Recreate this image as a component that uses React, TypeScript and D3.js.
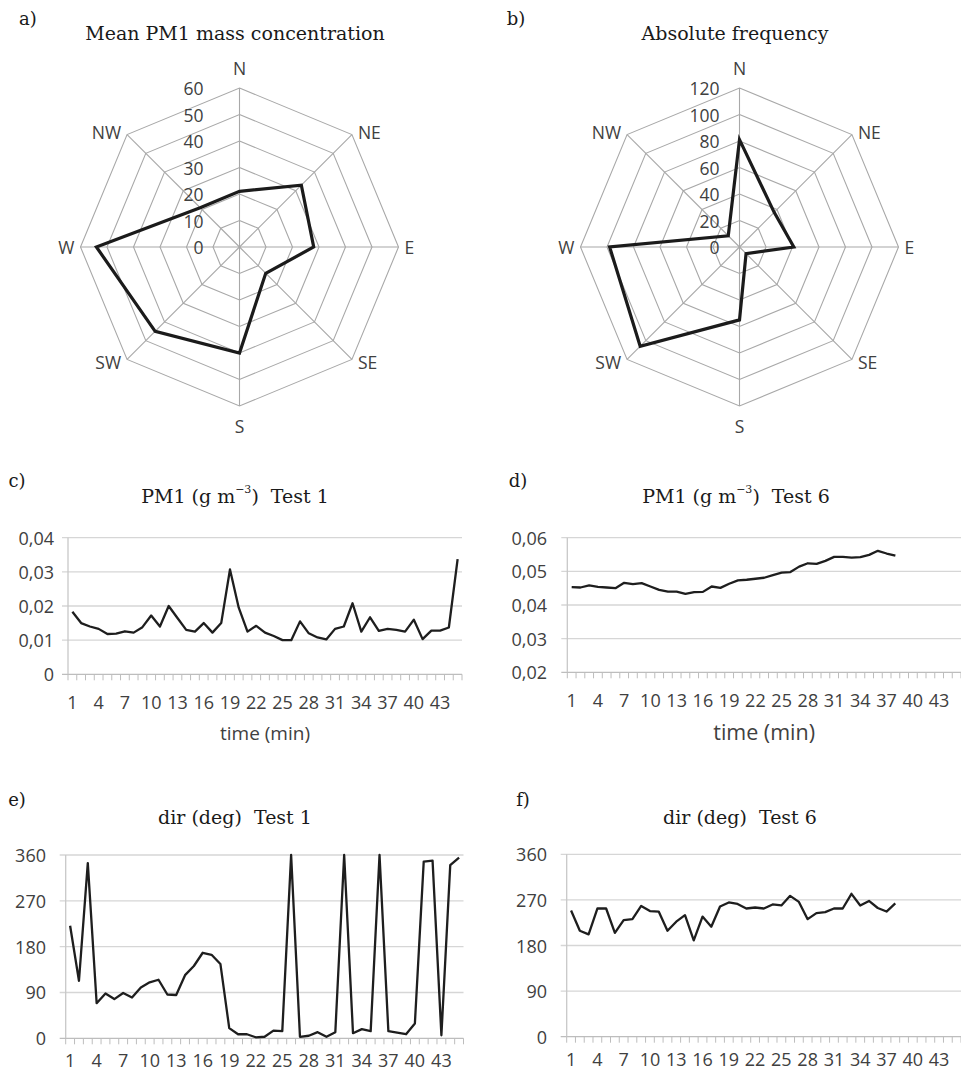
import React from 'react';
import * as d3 from 'd3';

// wind sectors, clockwise from north
const directions = ['N', 'NE', 'E', 'SE', 'S', 'SW', 'W', 'NW'];
const meanPm1 = [21, 33, 28, 14, 40, 45, 54, 21];
const frequency = [81, 37, 41, 7, 55, 106, 98, 12];
const pm1Ticks = [0, 10, 20, 30, 40, 50, 60];
const freqTicks = [0, 20, 40, 60, 80, 100, 120];

// minutes on the x axis of the time series
const minutes = [
  1, 2, 3, 4, 5, 6, 7, 8, 9, 10, 11, 12, 13, 14, 15, 16, 17, 18, 19, 20, 21, 22, 23,
  24, 25, 26, 27, 28, 29, 30, 31, 32, 33, 34, 35, 36, 37, 38, 39, 40, 41, 42, 43, 44, 45,
];
const minuteLabels = [1, 4, 7, 10, 13, 16, 19, 22, 25, 28, 31, 34, 37, 40, 43];

const pm1Test1 = [
  0.0183, 0.015, 0.014, 0.0133, 0.0118, 0.0119, 0.0126, 0.0122, 0.0138, 0.0172,
  0.014, 0.02, 0.0165, 0.013, 0.0125, 0.015, 0.0122, 0.015, 0.0307, 0.0195,
  0.0125, 0.0142, 0.0122, 0.0112, 0.01, 0.01, 0.0155, 0.012, 0.0108, 0.0102,
  0.0133, 0.014, 0.0208, 0.0125, 0.0167, 0.0127, 0.0133, 0.013, 0.0125, 0.016,
  0.0103, 0.0128, 0.0128, 0.0137, 0.0337,
];
const pm1Test6 = [
  0.0453, 0.0452, 0.0458, 0.0454, 0.0452, 0.045, 0.0466, 0.0462, 0.0465, 0.0455,
  0.0445, 0.044, 0.044, 0.0433, 0.0438, 0.0439, 0.0455, 0.0451, 0.0463, 0.0473,
  0.0475, 0.0478, 0.0481, 0.0489, 0.0496, 0.0498, 0.0514, 0.0524, 0.0522, 0.0531,
  0.0543, 0.0543, 0.0541, 0.0542, 0.0549, 0.0561, 0.0553, 0.0547,
];
const dirTest1 = [
  221, 113, 344, 69, 88, 77, 89, 80, 100, 110, 115, 86, 85, 124, 142, 168, 164, 146,
  20, 8, 8, 2, 3, 15, 14, 360, 3, 5, 12, 3, 12, 360, 10, 18, 14, 360, 14, 11, 8, 29,
  347, 349, 6, 340, 355,
];
const dirTest6 = [
  249, 209, 202, 253, 253, 205, 230, 232, 258, 248, 247, 209, 227, 240, 190, 237, 217,
  257, 265, 262, 253, 255, 253, 261, 259, 278, 266, 232, 244, 246, 253, 253, 282, 259,
  268, 254, 247, 263,
];
const pm1TicksC = [0, 0.01, 0.02, 0.03, 0.04];
const pm1TicksD = [0.02, 0.03, 0.04, 0.05, 0.06];
const degTicks = [0, 90, 180, 270, 360];

const SERIF = '"DejaVu Serif", serif';
const SANS = '"Open Sans", sans-serif';
const comma = (v: number) => d3.format('.2f')(v).replace('.', ',');

function Radar({ cx, cy, radius, ticks, values, labelGap }: any) {
  const max = ticks[ticks.length - 1];
  const r = d3.scaleLinear().domain([0, max]).range([0, radius]);
  const angle = d3.scalePoint().domain(directions).range([0, (2 * Math.PI * 7) / 8]);
  const polar = (d: string, v: number) => {
    const a = angle(d) as number;
    return [cx + r(v) * Math.sin(a), cy - r(v) * Math.cos(a)];
  };
  const ring = d3
    .lineRadial<string>()
    .angle((d) => angle(d) as number)
    .curve(d3.curveLinearClosed);
  const data = d3
    .lineRadial<number>()
    .angle((_, i) => angle(directions[i]) as number)
    .radius((v) => r(v))
    .curve(d3.curveLinearClosed);

  return (
    <g>
      {ticks.slice(1).map((t: number) => (
        <path
          key={t}
          transform={`translate(${cx},${cy})`}
          d={ring.radius(() => r(t))(directions) as string}
          fill="none"
          stroke="#a8a8a8"
          strokeWidth={1.1}
        />
      ))}
      {directions.map((d) => {
        const [x, y] = polar(d, max);
        return <line key={d} x1={cx} y1={cy} x2={x} y2={y} stroke="#a8a8a8" strokeWidth={1.1} />;
      })}
      <path
        transform={`translate(${cx},${cy})`}
        d={data(values) as string}
        fill="none"
        stroke="#1b1b1b"
        strokeWidth={3.2}
        strokeLinejoin="miter"
      />
      {ticks.map((t: number) => (
        <text
          key={t}
          x={cx - labelGap}
          y={cy - r(t)}
          textAnchor="end"
          dominantBaseline="central"
          fontFamily={SANS}
          fontSize={17.5}
          fill="#404040"
        >
          {t}
        </text>
      ))}
      {directions.map((d) => {
        const a = angle(d) as number;
        const [vx, vy] = polar(d, max);
        const s = Math.sin(a);
        const c = Math.cos(a);
        const anchor = s > 0.1 ? 'start' : s < -0.1 ? 'end' : 'middle';
        const x = vx + (s > 0.1 ? 6 : s < -0.1 ? -6 : 0);
        const y = c > 0.9 ? vy - 20 : c < -0.9 ? vy + 20 : vy - c * 4;
        return (
          <text
            key={d}
            x={x}
            y={y}
            textAnchor={anchor}
            dominantBaseline="central"
            fontFamily={SANS}
            fontSize={17.5}
            fill="#404040"
          >
            {d}
          </text>
        );
      })}
    </g>
  );
}

function LinePanel({ x0, x1, yTop, yBot, domain, ticks, fmt, values, labelRight, tickGap, xLabel, xLabelSize, xLabelY }: any) {
  const x = d3.scaleBand<number>().domain(minutes).range([x0, x1]).padding(0);
  const y = d3.scaleLinear().domain(domain).range([yBot, yTop]);
  const bw = x.bandwidth();
  const line = d3
    .line<number>()
    .x((_, i) => (x(minutes[i]) as number) + bw / 2)
    .y((v) => y(v));

  return (
    <g>
      {ticks.map((t: number) => (
        <g key={t}>
          <line x1={x0 - 6} x2={x1} y1={y(t)} y2={y(t)} stroke={t === domain[0] ? '#bdbdbd' : '#d6d6d6'} strokeWidth={1.3} />
          <text
            x={labelRight}
            y={y(t)}
            textAnchor="end"
            dominantBaseline="central"
            fontFamily={SANS}
            fontSize={18}
            fill="#404040"
          >
            {fmt(t)}
          </text>
        </g>
      ))}
      <line x1={x0} x2={x0} y1={yTop} y2={yBot} stroke="#c8c8c8" strokeWidth={1.3} />
      {minutes.concat([minutes.length + 1]).map((m) => {
        const xt = m <= minutes.length ? (x(m) as number) : x1;
        return <line key={m} x1={xt} x2={xt} y1={yBot} y2={yBot + 6} stroke="#bdbdbd" strokeWidth={1} />;
      })}
      {minuteLabels.map((m) => (
        <text
          key={m}
          x={(x(m) as number) + bw / 2}
          y={yBot + tickGap}
          textAnchor="middle"
          dominantBaseline="central"
          fontFamily={SANS}
          fontSize={18}
          fill="#404040"
        >
          {m}
        </text>
      ))}
      {xLabel && (
        <text
          x={(x0 + x1) / 2}
          y={xLabelY}
          textAnchor="middle"
          dominantBaseline="central"
          fontFamily={SANS}
          fontSize={xLabelSize}
          fill="#404040"
        >
          {xLabel}
        </text>
      )}
      <path d={line(values) as string} fill="none" stroke="#1e1e1e" strokeWidth={2.3} strokeLinejoin="round" />
    </g>
  );
}

function Title({ x, y, children }: any) {
  return (
    <text x={x} y={y} textAnchor="middle" dominantBaseline="central" fontFamily={SERIF} fontSize={19} fill="#1a1a1a" style={{ whiteSpace: 'pre' }}>
      {children}
    </text>
  );
}

function Tag({ x, y, label }: any) {
  return (
    <text x={x} y={y} textAnchor="middle" dominantBaseline="central" fontFamily={SERIF} fontSize={18} fill="#1a1a1a">
      {label}
    </text>
  );
}

const pmTitle = (test: string) => [
  <tspan key="a">PM1 (g m</tspan>,
  <tspan key="b" dy={-7} fontSize={11}>−3</tspan>,
  <tspan key="c" dy={7}>{`)  Test ${test}`}</tspan>,
];

export default function App() {
  return (
    <svg
      width={961}
      height={1072}
      style={{ position: 'absolute', left: 0, top: 0, background: '#fff' }}
    >
      <Tag x={28} y={18} label="a)" />
      <Title x={235} y={33}>Mean PM1 mass concentration</Title>
      <Radar cx={239.5} cy={247} radius={159} ticks={pm1Ticks} values={meanPm1} labelGap={36} />

      <Tag x={516} y={18} label="b)" />
      <Title x={735} y={33}>Absolute frequency</Title>
      <Radar cx={739.5} cy={247} radius={159} ticks={freqTicks} values={frequency} labelGap={20} />

      <Tag x={17} y={480} label="c)" />
      <Title x={235} y={496}>{pmTitle('1')}</Title>
      <LinePanel
        x0={68} x1={462} yTop={537.7} yBot={674.3}
        domain={[0, 0.04]} ticks={pm1TicksC} fmt={(v: number) => (v === 0 ? '0' : comma(v))}
        values={pm1Test1} labelRight={54} tickGap={28} xLabel="time (min)" xLabelSize={19} xLabelY={733}
      />

      <Tag x={518} y={480} label="d)" />
      <Title x={736} y={496}>{pmTitle('6')}</Title>
      <LinePanel
        x0={567.3} x1={961} yTop={537.7} yBot={672.3}
        domain={[0.02, 0.06]} ticks={pm1TicksD} fmt={comma}
        values={pm1Test6} labelRight={547} tickGap={28} xLabel="time (min)" xLabelSize={21.5} xLabelY={731}
      />

      <Tag x={17} y={799} label="e)" />
      <Title x={235} y={817}>{'dir (deg)  Test 1'}</Title>
      <LinePanel
        x0={65.7} x1={463.5} yTop={855} yBot={1038.3}
        domain={[0, 360]} ticks={degTicks} fmt={(v: number) => String(v)}
        values={dirTest1} labelRight={46} tickGap={22}
      />

      <Tag x={523} y={799} label="f)" />
      <Title x={740} y={817}>{'dir (deg)  Test 6'}</Title>
      <LinePanel
        x0={566.7} x1={961} yTop={854.3} yBot={1036.7}
        domain={[0, 360]} ticks={degTicks} fmt={(v: number) => String(v)}
        values={dirTest6} labelRight={547} tickGap={22}
      />
    </svg>
  );
}
